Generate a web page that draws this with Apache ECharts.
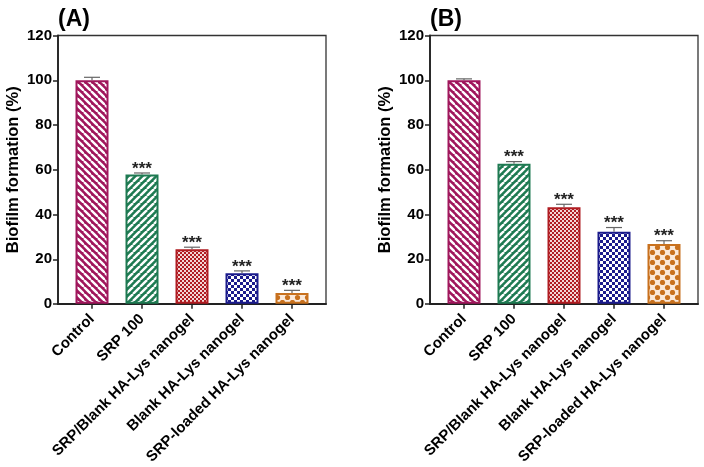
<!DOCTYPE html>
<html>
<head>
<meta charset="utf-8">
<script src="https://cdn.jsdelivr.net/npm/echarts@6/dist/echarts.min.js"></script>
<style>
html,body{margin:0;padding:0;background:#fff;}
#chart{width:704px;height:467px;}
</style>
</head>
<body>
<div id="chart"></div>
<script>
// ---- data ----
const categories = ['Control', 'SRP 100', 'SRP/Blank HA-Lys nanogel', 'Blank HA-Lys nanogel', 'SRP-loaded HA-Lys nanogel'];
const valuesA = [100, 57.8, 24.4, 13.6, 4.8];
const errorsA = [1.3, 0.7, 0.9, 1.1, 1.2];
const valuesB = [100, 62.6, 43.2, 32.2, 26.7];
const errorsB = [0.6, 1.0, 1.3, 1.9, 1.5];
const signifA = ['', '***', '***', '***', '***'];
const signifB = ['', '***', '***', '***', '***'];
const panelTitles = ['(A)', '(B)'];
const yName = 'Biofilm formation (%)';
const yMin = 0, yMax = 120, yStep = 20;

// ---- styles ----
const FONT = 'Liberation Sans, Arial, sans-serif';
const colors = ['#A0175C', '#1E7A52', '#B01C22', '#1B1B8C', '#C8711E'];

function makeTile(size, draw) {
  const c = document.createElement('canvas');
  c.width = size; c.height = size;
  const ctx = c.getContext('2d');
  draw(ctx, size);
  return c;
}
const patterns = [
  makeTile(7, (ctx, s) => { // "\" stripes
    ctx.fillStyle = colors[0]; ctx.fillRect(0, 0, s, s);
    ctx.strokeStyle = '#fff'; ctx.lineWidth = 2.4;
    for (const k of [-s, 0, s]) { ctx.beginPath(); ctx.moveTo(k, 0); ctx.lineTo(k + s, s); ctx.stroke(); }
  }),
  makeTile(7, (ctx, s) => { // "/" stripes
    ctx.fillStyle = colors[1]; ctx.fillRect(0, 0, s, s);
    ctx.strokeStyle = '#fff'; ctx.lineWidth = 2.4;
    for (const k of [-s, 0, s]) { ctx.beginPath(); ctx.moveTo(k, s); ctx.lineTo(k + s, 0); ctx.stroke(); }
  }),
  makeTile(4, (ctx, s) => { // fine checker
    ctx.fillStyle = '#f3d6d6'; ctx.fillRect(0, 0, s, s);
    ctx.fillStyle = colors[2];
    ctx.fillRect(0, 0, 2, 2); ctx.fillRect(2, 2, 2, 2);
  }),
  makeTile(6, (ctx, s) => { // checker
    ctx.fillStyle = '#fff'; ctx.fillRect(0, 0, s, s);
    ctx.fillStyle = colors[3];
    ctx.fillRect(0, 0, 3, 3); ctx.fillRect(3, 3, 3, 3);
  }),
  makeTile(10, (ctx, s) => { // dots
    ctx.fillStyle = '#fbeadb'; ctx.fillRect(0, 0, s, s);
    ctx.fillStyle = colors[4];
    for (const [x, y] of [[2.5, 2.5], [7.5, 7.5], [-2.5, 7.5], [12.5, 2.5], [7.5, -2.5], [2.5, 12.5]]) {
      ctx.beginPath(); ctx.arc(x, y, 2.6, 0, Math.PI * 2); ctx.fill();
    }
  })
];

function barData(values) {
  return values.map((v, i) => ({
    value: v,
    itemStyle: { color: { image: patterns[i], repeat: 'repeat' }, borderColor: colors[i], borderWidth: 2 }
  }));
}
function errData(values, errs) {
  return values.map((v, i) => [i, v, errs[i]]);
}
function errRender(sig) {
  return function (params, api) {
    const x = api.value(0), v = api.value(1), e = api.value(2);
    const tp = api.coord([x, v + e]);
    const base = api.coord([x, v]);
    const style = { stroke: '#666', lineWidth: 1.2 };
    const children = [
      { type: 'line', shape: { x1: tp[0], y1: base[1], x2: tp[0], y2: tp[1] }, style },
      { type: 'line', shape: { x1: tp[0] - 8, y1: tp[1], x2: tp[0] + 8, y2: tp[1] }, style }
    ];
    const s = sig[params.dataIndex];
    if (s) children.push({
      type: 'text', x: tp[0], y: tp[1] - 4,
      style: { text: s, align: 'center', verticalAlign: 'middle', font: 'bold 17px ' + FONT, fill: '#222' }
    });
    return { type: 'group', children };
  };
}

const gridTop = 35.5, gridH = 268.5, frameW = 268, inset = 9;
const panelLeft = [58, 430];

const grids = [], xAxes = [], yAxes = [], seriesList = [], titles = [];
[[valuesA, errorsA, signifA], [valuesB, errorsB, signifB]].forEach((d, p) => {
  const L = panelLeft[p];
  const gi = grids.length;
  grids.push({ left: L, top: gridTop, width: frameW, height: gridH, show: true, borderColor: '#333', borderWidth: 1.3, backgroundColor: 'transparent' });
  grids.push({ left: L + inset, top: gridTop, width: frameW - 2 * inset, height: gridH });
  xAxes.push({ gridIndex: gi, type: 'value', min: 0, max: 1, axisLine: { show: true, lineStyle: { color: '#222', width: 1.8 } },
    axisTick: { show: false }, axisLabel: { show: false }, splitLine: { show: false } });
  yAxes.push({ gridIndex: gi, type: 'value', min: yMin, max: yMax, interval: yStep,
    axisLine: { show: true, lineStyle: { color: '#222', width: 1.8 } },
    axisTick: { show: true, length: 5, lineStyle: { color: '#222', width: 1.5 } },
    axisLabel: { color: '#000', fontWeight: 'bold', fontSize: 15, fontFamily: FONT, margin: 6 },
    splitLine: { show: false },
    name: yName, nameLocation: 'middle', nameGap: 36, nameRotate: 90,
    nameTextStyle: { color: '#000', fontWeight: 'bold', fontSize: 16.5, fontFamily: FONT } });
  xAxes.push({ gridIndex: gi + 1, type: 'category', data: categories,
    axisLine: { show: false },
    axisTick: { show: true, alignWithLabel: true, length: 5, lineStyle: { color: '#222', width: 1.5 } },
    axisLabel: { rotate: 45, interval: 0, color: '#000', fontWeight: 'bold', fontSize: 15, fontFamily: FONT, margin: 13 } });
  yAxes.push({ gridIndex: gi + 1, type: 'value', min: yMin, max: yMax, interval: yStep, show: false });
  seriesList.push({ type: 'bar', xAxisIndex: gi + 1, yAxisIndex: gi + 1, barWidth: 33, data: barData(d[0]), z: 2, silent: true });
  seriesList.push({ type: 'custom', xAxisIndex: gi + 1, yAxisIndex: gi + 1, data: errData(d[0], d[1]),
    encode: { x: 0, y: 1 }, renderItem: errRender(d[2]), z: 3, silent: true });
  titles.push({ text: panelTitles[p], left: L, top: 8, padding: 0,
    textStyle: { color: '#000', fontWeight: 'bold', fontSize: 23, fontFamily: FONT } });
});

const chart = echarts.init(document.getElementById('chart'), null, { renderer: 'canvas' });
chart.setOption({
  animation: false,
  backgroundColor: '#fff',
  title: titles,
  grid: grids,
  xAxis: xAxes,
  yAxis: yAxes,
  series: seriesList
});
</script>
</body>
</html>
